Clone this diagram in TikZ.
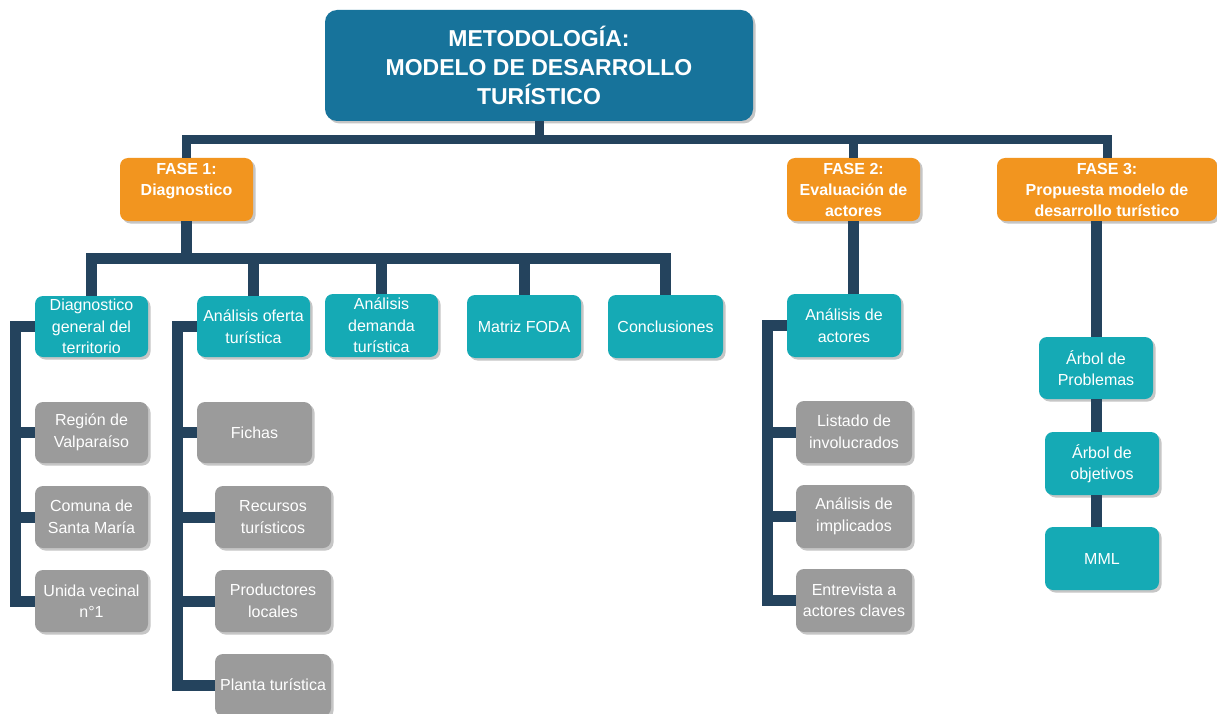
\documentclass[tikz,border=0pt]{standalone}
\usepackage{fontspec}
\setmainfont{Liberation Sans}
\usetikzlibrary{shadows}
\definecolor{titlec}{HTML}{17739B}
\definecolor{orangec}{HTML}{F2951F}
\definecolor{tealc}{HTML}{15AAB5}
\definecolor{greyc}{HTML}{9B9B9B}
\definecolor{linec}{HTML}{24435D}
\definecolor{shadowc}{HTML}{C6C6C6}
\begin{document}
\begin{tikzpicture}[x=1pt,y=-1pt,
  box/.style={rounded corners=8pt, text=white, align=center, inner sep=0pt,
    drop shadow={shadow xshift=2.5pt,shadow yshift=-2.5pt,fill=shadowc,opacity=1},
    font=\fontsize{16}{21.5}\selectfont},
  tealbox/.style={box, fill=tealc, minimum width=114pt, minimum height=63pt},
  greybox/.style={box, fill=greyc, minimum width=115pt, minimum height=62pt},
  fasebox/.style={box, fill=orangec, minimum height=63pt, font=\fontsize{16}{21}\selectfont\bfseries},
  titlebox/.style={box, fill=titlec, rounded corners=12pt, minimum width=428pt, minimum height=111pt,
    font=\fontsize{23}{29}\selectfont\bfseries},
  conn/.style={draw=linec, line width=11pt, line join=miter, line cap=butt},
  topconn/.style={draw=linec, line width=9pt, line join=miter, line cap=butt}
]
\useasboundingbox (0,0) rectangle (1217,714);
\fill[white] (0,0) rectangle (1217,714);
\clip (0,0) rectangle (1217,714);

% coordinates for bars
\coordinate (tb) at (539,140);
\coordinate (b1) at (186.5,258.5);
\coordinate (s1) at (15,0);
\coordinate (s2) at (177.5,0);
\coordinate (s3) at (767.5,0);

\node[titlebox] (title) at (539,65.5) {METODOLOGÍA:\\MODELO DE DESARROLLO\\TURÍSTICO};
\node[fasebox, minimum width=133pt] (f1) at (186.5,189.5) {FASE 1:\\Diagnostico\\~};
\node[fasebox, minimum width=133pt] (f2) at (853.5,189.5) {FASE 2:\\Evaluación de\\actores};
\node[fasebox, minimum width=220pt] (f3) at (1107,189.5) {FASE 3:\\Propuesta modelo de\\desarrollo turístico};

\draw[topconn] (title.south) -- (tb);
\draw[topconn] (f1.north) |- (tb) -| (f3.north);
\draw[topconn] (f2.north) -- (f2.north |- tb);

% Phase 1 children
\node[tealbox, minimum width=113pt, minimum height=61pt] (dgt) at (91.5,326.5) {Diagnostico\\general del\\territorio};
\node[tealbox, minimum width=113pt, minimum height=61pt] (aot) at (253.5,326.5) {Análisis oferta\\turística};
\node[tealbox, minimum width=113pt] (adt) at (381.5,325.5) {Análisis\\demanda\\turística};
\node[tealbox] (foda) at (524,326.5) {Matriz FODA};
\node[tealbox, minimum width=115pt] (conc) at (665.5,326.5) {Conclusiones};

\draw[conn] (f1.south) -- (b1);
\draw[conn] (dgt.north) |- (b1) -| (conc.north);
\draw[conn] (aot.north) -- (aot.north |- b1);
\draw[conn] (adt.north) -- (adt.north |- b1);
\draw[conn] (foda.north) -- (foda.north |- b1);

% left column
\node[greybox, minimum width=113pt, minimum height=61pt] (rv) at (91.5,432.5) {Región de\\Valparaíso};
\node[greybox, minimum width=113pt] (cs) at (91.5,517) {Comuna de\\Santa María};
\node[greybox, minimum width=113pt] (uv) at (91.5,601) {Unida vecinal\\n°1};
\draw[conn] (dgt.west) -- (dgt.west -| s1) |- (uv.west);
\draw[conn] (rv.west) -- (rv.west -| s1);
\draw[conn] (cs.west) -- (cs.west -| s1);

% oferta column
\node[greybox, minimum height=61pt] (fi) at (254.5,432.5) {Fichas};
\node[greybox, minimum width=116pt] (rt) at (273,517) {Recursos\\turísticos};
\node[greybox, minimum width=116pt] (pl) at (273,601) {Productores\\locales};
\node[greybox, minimum width=116pt] (pt) at (273,685) {Planta turística};
\draw[conn] (aot.west) -- (aot.west -| s2) |- (pt.west);
\draw[conn] (fi.west) -- (fi.west -| s2);
\draw[conn] (rt.west) -- (rt.west -| s2);
\draw[conn] (pl.west) -- (pl.west -| s2);

% Phase 2
\node[tealbox, minimum height=63pt] (aa) at (844,325.5) {Análisis de\\actores};
\draw[conn] (f2.south) -- (f2.south |- aa.north);
\node[greybox, minimum width=116pt] (li) at (854,432) {Listado de\\involucrados};
\node[greybox, minimum width=116pt, minimum height=63pt] (ai) at (854,516.5) {Análisis de\\implicados};
\node[greybox, minimum width=116pt, minimum height=63pt] (ea) at (854,600.5) {Entrevista a\\actores claves};
\draw[conn] (aa.west) -- (aa.west -| s3) |- (ea.west);
\draw[conn] (li.west) -- (li.west -| s3);
\draw[conn] (ai.west) -- (ai.west -| s3);

% Phase 3
\node[tealbox, minimum height=62pt] (ap) at (1096,368) {Árbol de\\Problemas};
\node[tealbox, minimum height=63pt] (ao) at (1102,463.5) {Árbol de\\objetivos};
\node[tealbox, minimum height=63pt] (mml) at (1102,558.5) {MML};
\draw[conn] (ap.north) -- (ap.north |- f3.south);
\draw[conn] (ap.south) -- (ap.south |- ao.north);
\draw[conn] (ao.south -| ap.south) -- (ap.south |- mml.north);
\end{tikzpicture}
\end{document}
